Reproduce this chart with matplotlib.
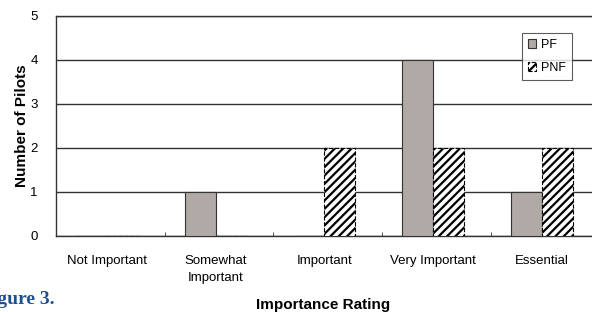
import matplotlib.pyplot as plt
import numpy as np

plt.rcParams['font.family'] = ['Liberation Sans', 'DejaVu Sans']
plt.rcParams['hatch.linewidth'] = 1.6

categories = ["Not Important", "Somewhat\nImportant", "Important", "Very Important", "Essential"]
pf = [0, 1, 0, 4, 1]
pnf = [0, 0, 2, 2, 2]

fig = plt.figure(figsize=(5.92, 3.12), dpi=100)
# axes runs past the right edge of the picture, like the cropped original
ax = fig.add_axes([56/592, 76/312, 543.5/592, 220/312])

x = np.arange(len(categories))
w = 0.285
ax.bar(x - w/2, pf, w, color="#b1a9a6", edgecolor="#333333", linewidth=0.8, label="PF", zorder=3)
ax.bar(x + w/2, pnf, w, color="white", edgecolor="black", hatch="////", linewidth=0.8,
       linestyle="--", label="PNF", zorder=3)

ax.set_xlim(-0.47, 4.53)
ax.set_ylim(0, 5)
ax.set_yticks([0, 1, 2, 3, 4, 5])
ax.yaxis.grid(True, color="#333333", linewidth=1.0, zorder=0)
ax.set_xticks(x)
ax.set_xticklabels(categories, fontsize=9.5, linespacing=1.55)
ax.tick_params(axis="x", length=0, pad=14)
ax.set_xticks(np.arange(0.53, 4.5, 1), minor=True)
ax.tick_params(axis="x", which="minor", direction="in", length=3, color="#333333")
ax.tick_params(axis="y", length=0, pad=13, labelsize=9.5)
for s in ax.spines.values():
    s.set_color("#333333")
    s.set_linewidth(1.0)

ax.set_ylabel("Number of Pilots", fontsize=11, fontweight="bold", labelpad=1)
fig.text(323/592, 1 - 305/312, "Importance Rating", fontsize=11, fontweight="bold",
         ha="center", va="center")
fig.text(55/592, 1 - 300/312, "Figure 3.", fontsize=14, fontweight="bold",
         family="Liberation Serif", color="#1f4f8f", ha="right", va="center")

leg = ax.legend(loc="upper left", bbox_to_anchor=(466/543.5, 1 - 17/220), fontsize=9,
                frameon=True, fancybox=False, edgecolor="#333333", handlelength=0.7,
                handleheight=0.7, handletextpad=0.4, borderpad=0.45, labelspacing=0.9,
                borderaxespad=0)
leg.get_frame().set_linewidth(0.8)

fig.savefig("out.png", dpi=100)
